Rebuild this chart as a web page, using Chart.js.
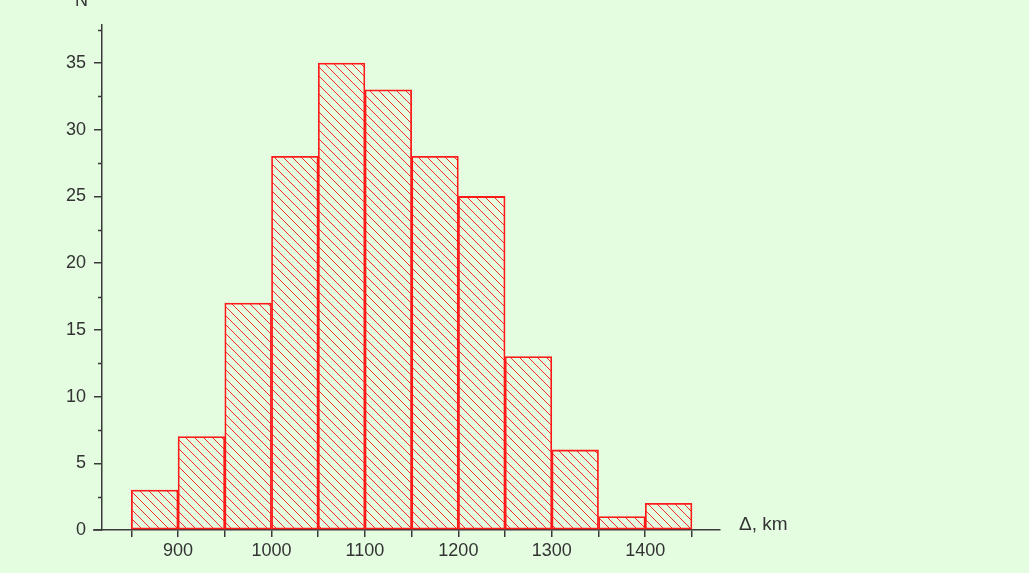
<!DOCTYPE html>
<html>
<head>
<meta charset="utf-8">
<script src="https://cdn.jsdelivr.net/npm/chart.js@4"></script>
<style>
    html, body { margin: 0; padding: 0; background: #e4fde1; }
    #wrap { width: 1029px; height: 573px; }
</style>
</head>
<body>
<div id="wrap"><canvas id="histChart" width="1029" height="573"></canvas></div>
<script>
/*===============
data
====================*/
const binCenters = [875, 925, 975, 1025, 1075, 1125, 1175, 1225, 1275, 1325, 1375, 1425];
const counts = [3, 7, 17, 28, 35, 33, 28, 25, 13, 6, 1, 2];
const xTickValues = [850, 900, 950, 1000, 1050, 1100, 1150, 1200, 1250, 1300, 1350, 1400, 1450];
const xLabelValues = [900, 1000, 1100, 1200, 1300, 1400];
const yTickValues = [0, 5, 10, 15, 20, 25, 30, 35];
const yMinorValues = [2.5, 7.5, 12.5, 17.5, 22.5, 27.5, 32.5, 37.5];

const axisColor = '#3a3a3a';
const textColor = '#333333';
const fontFamily = '"Liberation Sans", Arial, sans-serif';

// hatch pattern "\\"
function makeHatch() {
    const s = 9;
    const c = document.createElement('canvas');
    c.width = s; c.height = s;
    const g = c.getContext('2d');
    g.strokeStyle = 'rgba(255, 20, 20, 0.9)';
    g.lineWidth = 1;
    g.beginPath();
    g.moveTo(-1, -1); g.lineTo(s + 1, s + 1);
    g.moveTo(s - 1, -1); g.lineTo(s + 1, 1);
    g.moveTo(-1, s - 1); g.lineTo(1, s + 1);
    g.stroke();
    return g.createPattern(c, 'repeat');
}

// minor y ticks, axis overhang and free text labels
const extras = {
    id: 'extras',
    afterDraw(chart) {
        const ctx = chart.ctx;
        const y = chart.scales.y;
        const area = chart.chartArea;
        ctx.save();
        ctx.strokeStyle = axisColor;
        ctx.lineWidth = 1.5;
        ctx.beginPath();
        yMinorValues.forEach(v => {
            const py = Math.round(y.getPixelForValue(v)) + 0.5;
            ctx.moveTo(area.left - 4, py);
            ctx.lineTo(area.left, py);
        });
        // x axis extends a little left of the y axis
        ctx.moveTo(area.left - 9, area.bottom);
        ctx.lineTo(area.left, area.bottom);
        ctx.stroke();

        ctx.fillStyle = textColor;
        ctx.font = '19px ' + fontFamily;
        ctx.textBaseline = 'middle';
        ctx.textAlign = 'left';
        ctx.fillText('\u0394, km', 739, 525);
        ctx.font = '18px ' + fontFamily;
        ctx.textBaseline = 'alphabetic';
        ctx.fillText('N', 75, 6);
        ctx.restore();
    }
};

const histCanvas = document.getElementById('histChart');
if (histCanvas) {
    new Chart(histCanvas, {
        type: 'bar',
        data: {
            datasets: [{
                label: 'N',
                data: binCenters.map((x, i) => ({ x: x, y: counts[i] })),
                backgroundColor: makeHatch(),
                borderColor: '#ff1a1a',
                borderWidth: 1.1,
                borderSkipped: false,
                barPercentage: 1.0,
                categoryPercentage: 1.0
            }]
        },
        options: {
            responsive: false,
            animation: false,
            layout: { padding: { top: 25, right: 309, left: 0, bottom: 0 } },
            plugins: {
                legend: { display: false },
                tooltip: { enabled: false }
            },
            scales: {
                x: {
                    type: 'linear',
                    offset: false,
                    min: 818.6,
                    max: 1480,
                    afterBuildTicks: s => { s.ticks = xTickValues.map(v => ({ value: v })); },
                    afterFit: s => { s.height = 43; },
                    grid: { drawOnChartArea: false, offset: false, tickLength: 7, color: axisColor, lineWidth: 1.5 },
                    border: { display: true, color: axisColor, width: 1.5 },
                    ticks: {
                        padding: 3,
                        color: textColor,
                        font: { family: fontFamily, size: 18 },
                        maxRotation: 0,
                        autoSkip: false,
                        callback: v => xLabelValues.includes(v) ? String(v) : ''
                    }
                },
                y: {
                    min: 0,
                    max: 37.85,
                    afterBuildTicks: s => { s.ticks = yTickValues.map(v => ({ value: v })); },
                    afterFit: s => { s.width = 102; },
                    grid: { drawOnChartArea: false, tickLength: 8, color: axisColor, lineWidth: 1.5 },
                    border: { display: true, color: axisColor, width: 1.5 },
                    ticks: {
                        padding: 8,
                        color: textColor,
                        font: { family: fontFamily, size: 18 },
                        callback: v => String(v)
                    }
                }
            }
        },
        plugins: [extras]
    });
}
</script>
</body>
</html>
